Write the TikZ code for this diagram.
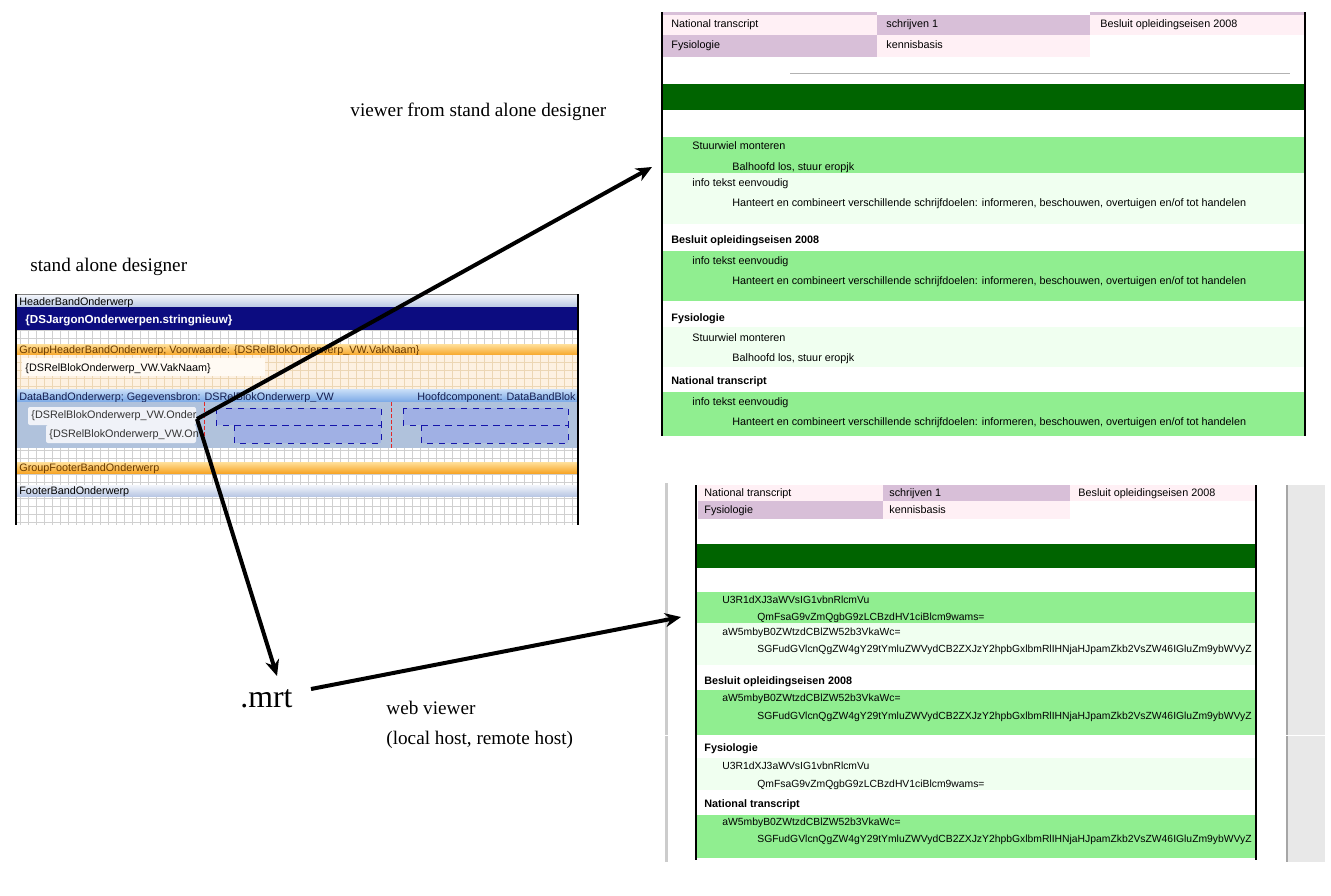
\documentclass[tikz,border=0pt]{standalone}
\usepackage{fontspec}
\setmainfont{Liberation Serif}
\newfontfamily\uifont{Liberation Sans}
\usetikzlibrary{arrows.meta}

\definecolor{rowpink}{RGB}{255,240,245}
\definecolor{rowlila}{RGB}{216,191,216}
\definecolor{bardark}{RGB}{0,100,0}
\definecolor{rowgreen}{RGB}{144,238,144}
\definecolor{rowdew}{RGB}{240,255,240}
\definecolor{navyband}{RGB}{12,12,128}
\definecolor{gridgrey}{RGB}{208,208,208}
\definecolor{bandlight}{RGB}{242,245,251}
\definecolor{banddark}{RGB}{186,200,228}
\definecolor{orangelight}{RGB}{255,224,155}
\definecolor{orangedark}{RGB}{247,166,40}
\definecolor{brownish}{RGB}{105,58,0}
\definecolor{peach}{RGB}{253,241,226}
\definecolor{peachgrid}{RGB}{236,214,180}
\definecolor{peachbox}{RGB}{255,250,243}
\definecolor{datalight}{RGB}{202,223,248}
\definecolor{datadark}{RGB}{122,168,230}
\definecolor{datatext}{RGB}{20,30,80}
\definecolor{databg}{RGB}{176,194,220}
\definecolor{boxblue}{RGB}{160,176,228}
\definecolor{boxline}{RGB}{20,20,170}
\definecolor{textbox}{RGB}{240,242,248}
\definecolor{guidered}{RGB}{225,40,40}

\newcommand\uisize{\uifont\fontsize{5.4}{6.5}\selectfont}
\newcommand\codesize{\uifont\fontsize{5.18}{6.5}\selectfont}

\begin{document}
\begin{tikzpicture}[x=0.5pt, y=-0.5pt,
    ui/.style={font=\uisize, inner sep=0pt, anchor=base west},
    uibold/.style={ui, font=\uisize\bfseries},
    code/.style={ui, font=\codesize},
    hand/.style={font=\fontsize{9.6}{11}\selectfont, inner sep=0pt, anchor=base west},
    pointer/.style={-{Stealth[length=8pt, width=7pt]}, line width=2pt}]

    \useasboundingbox (0,0) rectangle (1331,895);
    \fill[white] (0,0) rectangle (1331,895);

    \begin{scope}
        \foreach \x in {20,28,...,572} \draw[gridgrey, line width=0.3pt] (\x,294) -- (\x,525);
        \foreach \y in {298,306,...,522} \draw[gridgrey, line width=0.3pt] (16,\y) -- (578,\y);

        \shade[top color=bandlight, bottom color=banddark] (16,295) rectangle (578,307);
        \node[ui] (hdrband) at (19,305) {HeaderBandOnderwerp};
        \fill[navyband] (16,307) rectangle (578,330);
        \node[ui, font=\uifont\bfseries\fontsize{5.8}{7}\selectfont, text=white] (jargon) at (25,323.5) {\{DSJargonOnderwerpen.stringnieuw\}};

        \shade[top color=orangelight, bottom color=orangedark] (16,344) rectangle (578,355);
        \node[ui, text=brownish] (grphead) at (19,353.5) {GroupHeaderBandOnderwerp; Voorwaarde: \{DSRelBlokOnderwerp\_VW.VakNaam\}};
        \fill[peach] (16,355) rectangle (578,389);
        \foreach \x in {20,28,...,572} \draw[peachgrid, line width=0.3pt] (\x,355) -- (\x,389);
        \foreach \y in {362,370,378,386} \draw[peachgrid, line width=0.3pt] (16,\y) -- (578,\y);
        \fill[peachbox] (22,358) rectangle (265,376);
        \node[ui] (vaknaam) at (25,371) {\{DSRelBlokOnderwerp\_VW.VakNaam\}};

        \shade[top color=datalight, bottom color=datadark] (16,389) rectangle (578,402);
        \node[ui, text=datatext] (databand) at (19,400) {DataBandOnderwerp; Gegevensbron: DSRelBlokOnderwerp\_VW};
        \node[ui, text=datatext, anchor=base east] (hoofd) at (576,400) {Hoofdcomponent: DataBandBlok};
        \fill[databg] (16,402) rectangle (578,448);

        \fill[boxblue] (216,408) rectangle (381,425);
        \fill[boxblue] (234,425) rectangle (381,443);
        \draw[boxline, dashed, line width=0.5pt] (216,408) rectangle (381,425);
        \draw[boxline, dashed, line width=0.5pt] (234,425) rectangle (381,443);
        \fill[boxblue] (403,408) rectangle (568,425);
        \fill[boxblue] (421,425) rectangle (568,443);
        \draw[boxline, dashed, line width=0.5pt] (403,408) rectangle (568,425);
        \draw[boxline, dashed, line width=0.5pt] (421,425) rectangle (568,443);
        \draw[guidered, dash pattern=on 2pt off 1pt, line width=0.5pt] (204,402) -- (204,448);
        \draw[guidered, dash pattern=on 2pt off 1pt, line width=0.5pt] (391,402) -- (391,448);

        \fill[textbox, rounded corners=1pt] (28,407) rectangle (196,425);
        \fill[textbox, rounded corners=1pt] (46,425) rectangle (196,443);
        \node[ui, text=black!80] (onder) at (31,418) {\{DSRelBlokOnderwerp\_VW.Onder};
        \node[ui, text=black!80] (on) at (49,437) {\{DSRelBlokOnderwerp\_VW.On};

        \shade[top color=orangelight, bottom color=orangedark] (16,462) rectangle (578,473);
        \node[ui, text=brownish] (grpfoot) at (19,471) {GroupFooterBandOnderwerp};
        \shade[top color=bandlight, bottom color=banddark] (16,485) rectangle (578,496);
        \node[ui] (footband) at (19,494.5) {FooterBandOnderwerp};

        \draw[gray, line width=0.5pt] (16,294.5) -- (578,294.5);
        \draw[black, line width=1pt] (16,294) -- (16,525);
        \draw[black, line width=1pt] (578,294) -- (578,525);
    \end{scope}

    \begin{scope}
        \fill[rowlila] (662,12) rectangle (877,15);
        \fill[rowlila] (1090,12) rectangle (1305,15);
        \fill[rowpink] (662,15) rectangle (877,35);
        \fill[rowlila] (877,15) rectangle (1090,35);
        \fill[rowpink] (1090,15) rectangle (1305,35);
        \fill[rowlila] (662,35) rectangle (877,57);
        \fill[rowpink] (877,35) rectangle (1090,57);
        \node[ui] (vnat) at (671,27) {National transcript};
        \node[ui] (vschr) at (886,27) {schrijven 1};
        \node[ui] (vbes) at (1100,27) {Besluit opleidingseisen 2008};
        \node[ui] (vfys) at (671,48) {Fysiologie};
        \node[ui] (vkenn) at (886,48) {kennisbasis};
        \draw[gray!60, line width=0.4pt] (790,73) -- (1290,73);

        \fill[bardark] (662,84) rectangle (1305,110);
        \fill[rowgreen] (662,137) rectangle (1305,173);
        \fill[rowdew] (662,173) rectangle (1305,224);
        \fill[rowgreen] (662,251) rectangle (1305,301);
        \fill[rowdew] (662,327) rectangle (1305,367);
        \fill[rowgreen] (662,392) rectangle (1305,436);

        \node[ui] (vstuur) at (692,149) {Stuurwiel monteren};
        \node[ui] (vbal) at (732,170) {Balhoofd los, stuur eropjk};
        \node[ui] (vinfo) at (692,186) {info tekst eenvoudig};
        \node[ui] (vhant) at (732,206) {Hanteert en combineert verschillende schrijfdoelen: informeren, beschouwen, overtuigen en/of tot handelen};
        \node[uibold] (vbesb) at (671,243) {Besluit opleidingseisen 2008};
        \node[ui] (vinfob) at (692,264) {info tekst eenvoudig};
        \node[ui] (vhantb) at (732,284) {Hanteert en combineert verschillende schrijfdoelen: informeren, beschouwen, overtuigen en/of tot handelen};
        \node[uibold] (vfysb) at (671,321) {Fysiologie};
        \node[ui] (vstuurb) at (692,341) {Stuurwiel monteren};
        \node[ui] (vbalb) at (732,361) {Balhoofd los, stuur eropjk};
        \node[uibold] (vnatb) at (671,384) {National transcript};
        \node[ui] (vinfoc) at (692,405) {info tekst eenvoudig};
        \node[ui] (vhantc) at (732,425) {Hanteert en combineert verschillende schrijfdoelen: informeren, beschouwen, overtuigen en/of tot handelen};

        \draw[black, line width=1pt] (662,12) -- (662,436);
        \draw[black, line width=1pt] (1305,12) -- (1305,436);
    \end{scope}

    \begin{scope}
        \draw[gray!40, line width=1.5pt] (666,483) -- (666,862);
        \fill[gray!18] (1287,485) rectangle (1325,862);
        \draw[gray!70, line width=0.8pt] (1287,485) -- (1287,862);

        \fill[rowpink] (698,485) rectangle (883,501);
        \fill[rowlila] (883,485) rectangle (1070,501);
        \fill[rowpink] (1070,485) rectangle (1256,501);
        \fill[rowlila] (698,501) rectangle (883,519);
        \fill[rowpink] (883,501) rectangle (1070,519);
        \node[ui] (wnat) at (704,496) {National transcript};
        \node[ui] (wschr) at (889,496) {schrijven 1};
        \node[ui] (wbes) at (1078,496) {Besluit opleidingseisen 2008};
        \node[ui] (wfys) at (704,513) {Fysiologie};
        \node[ui] (wkenn) at (889,513) {kennisbasis};

        \fill[bardark] (696,544) rectangle (1256,568);
        \fill[rowgreen] (696,592) rectangle (1256,623);
        \fill[rowdew] (696,623) rectangle (1256,665);
        \fill[rowgreen] (696,690) rectangle (1256,735);
        \fill[rowdew] (696,758) rectangle (1256,790);
        \fill[rowgreen] (696,815) rectangle (1256,858);

        \node[code] (wstuur) at (722,603) {U3R1dXJ3aWVsIG1vbnRlcmVu};
        \node[code] (wbal) at (757,620) {QmFsaG9vZmQgbG9zLCBzdHV1ciBlcm9wams=};
        \node[code] (winfo) at (722,635) {aW5mbyB0ZWtzdCBlZW52b3VkaWc=};
        \node[code] (whant) at (757,652) {SGFudGVlcnQgZW4gY29tYmluZWVydCB2ZXJzY2hpbGxlbmRlIHNjaHJpamZkb2VsZW46IGluZm9ybWVyZ};
        \node[uibold] (wbesb) at (704,684) {Besluit opleidingseisen 2008};
        \node[code] (winfob) at (722,701) {aW5mbyB0ZWtzdCBlZW52b3VkaWc=};
        \node[code] (whantb) at (757,719) {SGFudGVlcnQgZW4gY29tYmluZWVydCB2ZXJzY2hpbGxlbmRlIHNjaHJpamZkb2VsZW46IGluZm9ybWVyZ};
        \node[uibold] (wfysb) at (704,751) {Fysiologie};
        \node[code] (wstuurb) at (722,769) {U3R1dXJ3aWVsIG1vbnRlcmVu};
        \node[code] (wbalb) at (757,787) {QmFsaG9vZmQgbG9zLCBzdHV1ciBlcm9wams=};
        \node[uibold] (wnatb) at (704,807) {National transcript};
        \node[code] (winfoc) at (722,825) {aW5mbyB0ZWtzdCBlZW52b3VkaWc=};
        \node[code] (whantc) at (757,842) {SGFudGVlcnQgZW4gY29tYmluZWVydCB2ZXJzY2hpbGxlbmRlIHNjaHJpamZkb2VsZW46IGluZm9ybWVyZ};

        \draw[white, line width=0.6pt] (665,735.5) -- (1331,735.5);
        \draw[black, line width=1pt] (696,485) -- (696,860);
        \draw[black, line width=1pt] (1256,485) -- (1256,860);
    \end{scope}

    \node[hand] (lblviewer) at (350,116) {viewer from stand alone designer};
    \node[hand] (lbldesigner) at (30,271) {stand alone designer};
    \node[hand, font=\fontsize{15.9}{18}\selectfont] (mrt) at (240,707) {.mrt};
    \node[hand] (lblweb) at (386,714) {web viewer};
    \node[hand] (lblhost) at (386,744) {(local host, remote host)};

    \coordinate (junc) at (197,419);
    \coordinate (viewtip) at (652,167);
    \coordinate (mrttip) at (277,676);
    \coordinate (webfrom) at (311,689);
    \coordinate (webtip) at (681,617);
    \draw[pointer] (junc) -- (viewtip);
    \draw[pointer] (junc) -- (mrttip);
    \draw[pointer] (webfrom) -- (webtip);
\end{tikzpicture}
\end{document}
